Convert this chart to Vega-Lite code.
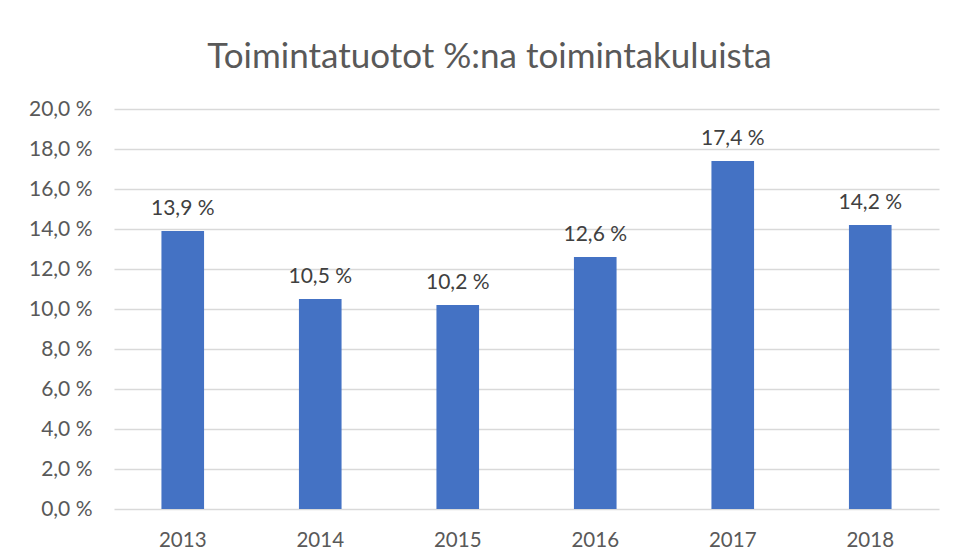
{
  "$schema": "https://vega.github.io/schema/vega-lite/v6.json",
  "width": 825,
  "height": 400,
  "autosize": {"type": "none"},
  "padding": {"left": 114, "top": 109, "right": 18, "bottom": 50},
  "background": "white",
  "title": {
    "text": "Toimintatuotot %:na toimintakuluista",
    "font": "Lato",
    "fontSize": 35,
    "fontWeight": "normal",
    "color": "#595959",
    "anchor": "middle",
    "offset": -5,
    "dx": -37,
    "baseline": "alphabetic"
  },
  "data": {
    "values": [
      {"vuosi": "2013", "arvo": 13.9},
      {"vuosi": "2014", "arvo": 10.5},
      {"vuosi": "2015", "arvo": 10.2},
      {"vuosi": "2016", "arvo": 12.6},
      {"vuosi": "2017", "arvo": 17.4},
      {"vuosi": "2018", "arvo": 14.2}
    ]
  },
  "encoding": {
    "x": {
      "field": "vuosi",
      "type": "nominal",
      "sort": null,
      "scale": {"paddingInner": 0.69, "paddingOuter": 0.345},
      "axis": {
        "title": null,
        "labelAngle": 0,
        "domain": false,
        "ticks": false,
        "labelPadding": 21,
        "labelFont": "Lato",
        "labelFontSize": 20.5,
        "labelColor": "#595959"
      }
    },
    "y": {
      "field": "arvo",
      "type": "quantitative",
      "scale": {"domain": [0, 20], "nice": false},
      "axis": {
        "title": null,
        "values": [0, 2, 4, 6, 8, 10, 12, 14, 16, 18, 20],
        "labelExpr": "replace(format(datum.value, '.1f'), '.', ',') + ' %'",
        "domain": false,
        "ticks": false,
        "labelPadding": 22,
        "labelFont": "Lato",
        "labelFontSize": 21,
        "labelColor": "#595959",
        "gridColor": "#d9d9d9",
        "gridWidth": 1.5
      }
    }
  },
  "layer": [
    {"mark": {"type": "bar", "color": "#4472C4"}},
    {
      "mark": {"type": "text", "dy": -22, "font": "Lato", "fontSize": 21, "color": "#404040"},
      "encoding": {
        "text": {"field": "label"}
      },
      "transform": [
        {"calculate": "replace(format(datum.arvo, '.1f'), '.', ',') + ' %'", "as": "label"}
      ]
    }
  ],
  "config": {"view": {"stroke": null}}
}
